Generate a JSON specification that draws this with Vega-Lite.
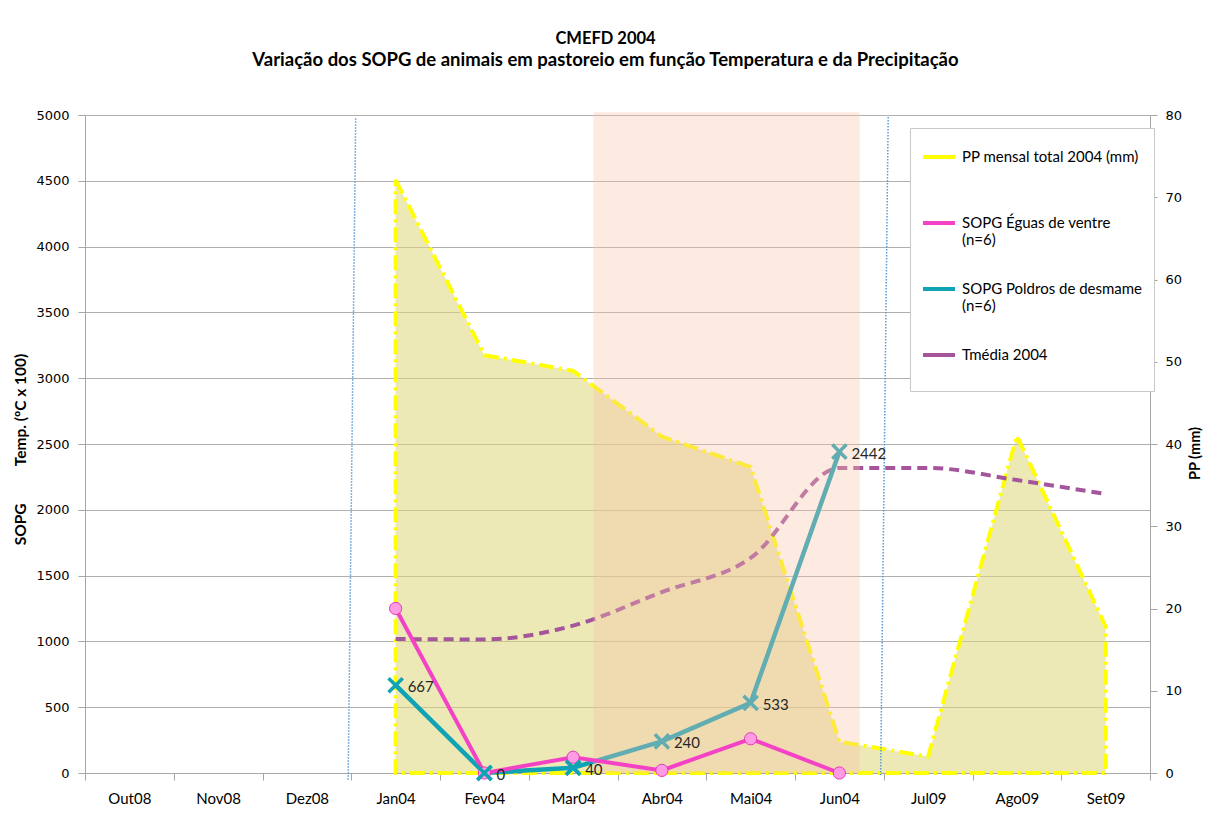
{
  "$schema": "https://vega.github.io/schema/vega-lite/v6.json",
  "width": 1065,
  "height": 658,
  "autosize": {"type": "none"},
  "padding": {"left": 85, "top": 115, "right": 57, "bottom": 55},
  "background": "white",
  "title": {
    "text": "CMEFD 2004",
    "subtitle": "Variação dos SOPG de animais em pastoreio em função Temperatura e da Precipitação",
    "font": "Lato", "fontSize": 16.5, "fontWeight": "bold",
    "subtitleFont": "Lato", "subtitleFontSize": 18.5, "subtitleFontWeight": "bold", "subtitleColor": "#000000",
    "subtitlePadding": 3,
    "anchor": "middle", "offset": 40, "dx": -12, "color": "#000000"
  },
  "config": {"view": {"stroke": null}, "font": "Lato"},
  "datasets": {
    "pp": [
      {"month": "Jan04", "series": "PP mensal total 2004 (mm)", "v": 72.1},
      {"month": "Fev04", "series": "PP mensal total 2004 (mm)", "v": 50.8},
      {"month": "Mar04", "series": "PP mensal total 2004 (mm)", "v": 48.9},
      {"month": "Abr04", "series": "PP mensal total 2004 (mm)", "v": 40.9},
      {"month": "Mai04", "series": "PP mensal total 2004 (mm)", "v": 37.2},
      {"month": "Jun04", "series": "PP mensal total 2004 (mm)", "v": 3.8},
      {"month": "Jul09", "series": "PP mensal total 2004 (mm)", "v": 2.0},
      {"month": "Ago09", "series": "PP mensal total 2004 (mm)", "v": 41.0},
      {"month": "Set09", "series": "PP mensal total 2004 (mm)", "v": 17.8}
    ],
    "tmed": [
      {"month": "Jan04", "series": "Tmédia 2004", "v": 1018},
      {"month": "Fev04", "series": "Tmédia 2004", "v": 1015},
      {"month": "Mar04", "series": "Tmédia 2004", "v": 1120},
      {"month": "Abr04", "series": "Tmédia 2004", "v": 1375},
      {"month": "Mai04", "series": "Tmédia 2004", "v": 1634},
      {"month": "Jun04", "series": "Tmédia 2004", "v": 2318},
      {"month": "Jul09", "series": "Tmédia 2004", "v": 2318},
      {"month": "Ago09", "series": "Tmédia 2004", "v": 2226},
      {"month": "Set09", "series": "Tmédia 2004", "v": 2120}
    ],
    "eguas": [
      {"month": "Jan04", "series": "SOPG Éguas de ventre (n=6)", "v": 1250},
      {"month": "Fev04", "series": "SOPG Éguas de ventre (n=6)", "v": 0},
      {"month": "Mar04", "series": "SOPG Éguas de ventre (n=6)", "v": 120},
      {"month": "Abr04", "series": "SOPG Éguas de ventre (n=6)", "v": 20},
      {"month": "Mai04", "series": "SOPG Éguas de ventre (n=6)", "v": 260},
      {"month": "Jun04", "series": "SOPG Éguas de ventre (n=6)", "v": 0}
    ],
    "poldros": [
      {"month": "Jan04", "series": "SOPG Poldros de desmame (n=6)", "v": 667, "lbl": "667"},
      {"month": "Fev04", "series": "SOPG Poldros de desmame (n=6)", "v": 0, "lbl": "0"},
      {"month": "Mar04", "series": "SOPG Poldros de desmame (n=6)", "v": 40, "lbl": "40"},
      {"month": "Abr04", "series": "SOPG Poldros de desmame (n=6)", "v": 240, "lbl": "240"},
      {"month": "Mai04", "series": "SOPG Poldros de desmame (n=6)", "v": 533, "lbl": "533"},
      {"month": "Jun04", "series": "SOPG Poldros de desmame (n=6)", "v": 2442, "lbl": "2442"}
    ],
    "shade": [{"start": "Mar04", "end": "Jun04", "top": 5020, "bottom": 0}],
    "marks": [
      {"xtop": "Jan04", "xbot": "Dez08", "ytop": 4975, "ybot": -55},
      {"xtop": "Jul09", "xbot": "Jun04", "ytop": 4985, "ybot": -15}
    ]
  },
  "layer": [
    {
      "data": {"name": "pp"},
      "mark": {"type": "area", "fill": "#dcd77a", "fillOpacity": 0.55, "strokeWidth": 4, "strokeDash": [15, 5, 3, 5]},
      "encoding": {
        "x": {
          "field": "month", "type": "ordinal", "bandPosition": 0.5,
          "scale": {"type": "band", "paddingInner": 0, "paddingOuter": 0,
            "domain": ["Out08", "Nov08", "Dez08", "Jan04", "Fev04", "Mar04", "Abr04", "Mai04", "Jun04", "Jul09", "Ago09", "Set09"]},
          "axis": {
            "title": null, "labelFont": "Lato", "labelFontSize": 15, "labelColor": "#000000",
            "labelPadding": 11, "labelAngle": 0, "tickBand": "extent", "tickSize": 7,
            "tickColor": "#a6a6a6", "domainColor": "#a6a6a6", "grid": false
          }
        },
        "y": {
          "field": "v", "type": "quantitative",
          "scale": {"domain": [0, 80], "nice": false},
          "axis": {
            "orient": "right", "values": [0, 10, 20, 30, 40, 50, 60, 70, 80], "grid": false,
            "title": "PP (mm)", "titleFont": "Lato", "titleFontSize": 14.5, "titleFontWeight": "bold",
            "titleAngle": 270, "titleX": 45, "titleY": 338, "titleAlign": "center", "titleBaseline": "middle",
            "titleColor": "#000000",
            "labelFont": "DejaVu Sans", "labelFontSize": 13, "labelColor": "#000000", "labelPadding": 8,
            "tickSize": 7, "tickColor": "#a6a6a6", "domainColor": "#a6a6a6"
          }
        },
        "stroke": {
          "field": "series", "type": "nominal",
          "scale": {
            "domain": ["PP mensal total 2004 (mm)", "SOPG Éguas de ventre (n=6)", "SOPG Poldros de desmame (n=6)", "Tmédia 2004"],
            "range": ["#ffff00", "#f442c6", "#10a2b5", "#a4559c"]
          },
          "legend": {
            "orient": "none", "legendX": 825, "legendY": 13, "title": null,
            "fillColor": "white", "strokeColor": "#c8c8c8", "padding": 11,
            "symbolType": "stroke", "symbolStrokeWidth": 4, "symbolSize": 1024,
            "labelFont": "Lato", "labelFontSize": 15, "labelColor": "#000000", "labelLimit": 300,
            "rowPadding": 23, "labelOffset": 5,
            "labelExpr": "indexof(datum.label, '(n=6)') > 0 ? [replace(datum.label, ' (n=6)', ''), '(n=6)'] : [datum.label, '']",
            "encode": {
              "symbols": {
                "update": {
                  "strokeDash": {"signal": "datum.value == 'PP mensal total 2004 (mm)' ? [12, 4, 3, 4] : datum.value == 'Tmédia 2004' ? [10, 6] : [1, 0]"}
                }
              }
            }
          }
        }
      }
    },
    {
      "layer": [
        {
          "data": {"name": "marks"},
          "mark": {"type": "rule", "stroke": "#5b9bd5", "strokeWidth": 1.5, "strokeDash": [1.5, 1.5]},
          "encoding": {
            "x": {"field": "xtop", "type": "ordinal", "bandPosition": 0.05},
            "x2": {"field": "xbot", "bandPosition": 0.965},
            "y": {"field": "ytop", "type": "quantitative",
              "scale": {"domain": [0, 5000], "nice": false},
              "axis": {
                "orient": "left", "values": [0, 500, 1000, 1500, 2000, 2500, 3000, 3500, 4000, 4500, 5000],
                "format": "d",
                "grid": true, "gridColor": "#b0b0b0",
                "title": "SOPG\u00a0\u00a0\u00a0\u00a0\u00a0\u00a0\u00a0\u00a0\u00a0\u00a0Temp. (ºC x 100)",
                "titleFont": "Lato", "titleFontSize": 15.5, "titleFontWeight": "bold", "titleColor": "#000000",
                "titlePadding": 7, "titleY": 334,
                "labelFont": "DejaVu Sans", "labelFontSize": 13, "labelColor": "#000000", "labelPadding": 9,
                "tickSize": 7, "tickColor": "#a6a6a6", "domainColor": "#a6a6a6"
              }
            },
            "y2": {"field": "ybot"}
          }
        },
        {
          "data": {"name": "tmed"},
          "mark": {"type": "line", "strokeWidth": 4, "interpolate": "monotone", "stroke": "#a4559c", "strokeDash": [10, 6]},
          "encoding": {
            "x": {"field": "month", "type": "ordinal", "bandPosition": 0.5},
            "y": {"field": "v", "type": "quantitative"}
          }
        },
        {
          "data": {"name": "poldros"},
          "mark": {"type": "line", "strokeWidth": 4.5, "stroke": "#10a2b5"},
          "encoding": {
            "x": {"field": "month", "type": "ordinal", "bandPosition": 0.5},
            "y": {"field": "v", "type": "quantitative"}
          }
        },
        {
          "data": {"name": "poldros"},
          "mark": {"type": "point", "filled": false, "shape": "M-1,-1L1,1M-1,1L1,-1", "stroke": "#10a2b5", "strokeWidth": 3.5, "size": 200, "opacity": 1},
          "encoding": {
            "x": {"field": "month", "type": "ordinal", "bandPosition": 0.5},
            "y": {"field": "v", "type": "quantitative"}
          }
        },
        {
          "data": {"name": "shade"},
          "mark": {"type": "rect", "fill": "#f9c4a8", "fillOpacity": 0.35},
          "encoding": {
            "x": {"field": "start", "type": "ordinal", "bandPosition": 0.73},
            "x2": {"field": "end", "bandPosition": 0.73},
            "y": {"field": "top", "type": "quantitative"},
            "y2": {"field": "bottom"}
          }
        },
        {
          "data": {"name": "eguas"},
          "mark": {"type": "line", "strokeWidth": 4, "stroke": "#f442c6"},
          "encoding": {
            "x": {"field": "month", "type": "ordinal", "bandPosition": 0.5},
            "y": {"field": "v", "type": "quantitative"}
          }
        },
        {
          "data": {"name": "eguas"},
          "mark": {"type": "point", "filled": true, "fill": "#ff9be3", "stroke": "#e23ab8", "strokeWidth": 1, "size": 150, "opacity": 1},
          "encoding": {
            "x": {"field": "month", "type": "ordinal", "bandPosition": 0.5},
            "y": {"field": "v", "type": "quantitative"}
          }
        },
        {
          "data": {"name": "poldros"},
          "transform": [{"filter": "datum.month == 'Fev04' || datum.month == 'Mar04'"}],
          "mark": {"type": "point", "filled": false, "shape": "M-1,-1L1,1M-1,1L1,-1", "stroke": "#10a2b5", "strokeWidth": 3.5, "size": 200, "opacity": 1},
          "encoding": {
            "x": {"field": "month", "type": "ordinal", "bandPosition": 0.5},
            "y": {"field": "v", "type": "quantitative"}
          }
        },
        {
          "data": {"name": "poldros"},
          "mark": {"type": "text", "align": "left", "baseline": "middle", "dx": 12, "dy": 2, "font": "Lato", "fontSize": 15, "color": "#262626"},
          "encoding": {
            "x": {"field": "month", "type": "ordinal", "bandPosition": 0.5},
            "y": {"field": "v", "type": "quantitative"},
            "text": {"field": "lbl"}
          }
        }
      ]
    }
  ],
  "resolve": {"scale": {"y": "independent"}}
}
